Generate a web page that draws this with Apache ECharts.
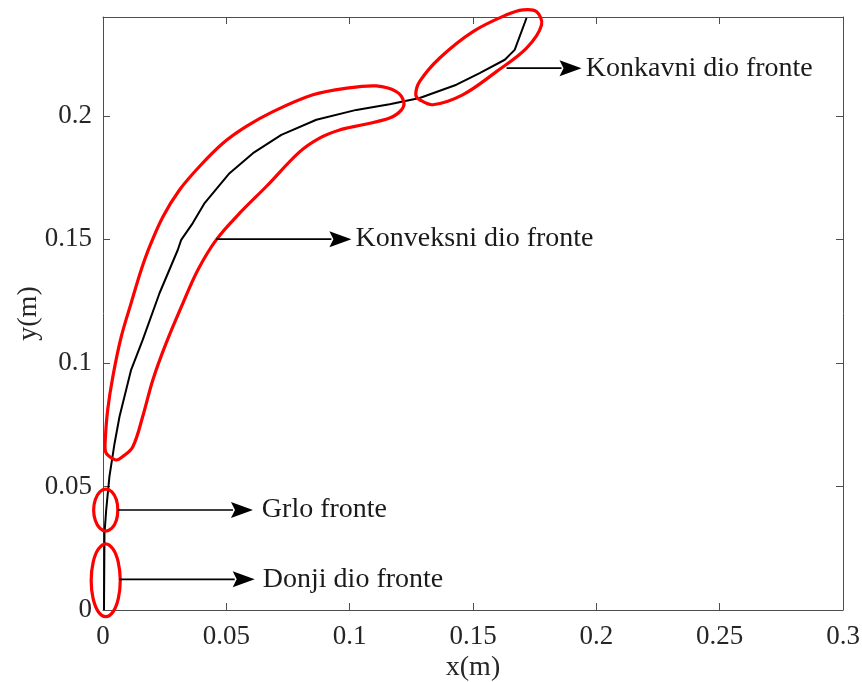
<!DOCTYPE html>
<html><head><meta charset="utf-8">
<script src="https://cdn.jsdelivr.net/npm/echarts@6/dist/echarts.min.js"></script>
<style>html,body{margin:0;padding:0;background:#fff}#c{width:862px;height:682px}</style>
</head><body><div id="c"></div>
<script>
// axis settings
const xTicks = [0, 0.05, 0.1, 0.15, 0.2, 0.25, 0.3];
const yTicks = [0, 0.05, 0.1, 0.15, 0.2];
const xMax = 0.3, yMax = 0.24;

// front profile (black curve)
const curveX = [0.0004, 0.0006, 0.0013, 0.0026, 0.0047, 0.0067, 0.0114, 0.0161, 0.0229, 0.0303, 0.0317, 0.0364, 0.0412, 0.0513, 0.0608, 0.0723, 0.0865, 0.1027, 0.1162, 0.1284, 0.1433, 0.1527, 0.1629, 0.1669, 0.1717];
const curveY = [0.0000, 0.0310, 0.0405, 0.0540, 0.0675, 0.0783, 0.0972, 0.1093, 0.1282, 0.1457, 0.1498, 0.1566, 0.1647, 0.1768, 0.1849, 0.1923, 0.1984, 0.2024, 0.2047, 0.2072, 0.2126, 0.2173, 0.2227, 0.2267, 0.2396];

// red outlines (x,y pairs in data units)
const convexOutline = [[0.0010,0.0641],[0.0010,0.0702],[0.0019,0.0810],[0.0040,0.0945],[0.0074,0.1106],[0.0114,0.1242],[0.0155,0.1377],[0.0189,0.1471],[0.0243,0.1592],[0.0310,0.1700],[0.0391,0.1795],[0.0486,0.1889],[0.0581,0.1957],[0.0689,0.2017],[0.0851,0.2085],[0.0987,0.2112],[0.1108,0.2121],[0.1189,0.2098],[0.1219,0.2058],[0.1210,0.2024],[0.1162,0.1991],[0.1054,0.1964],[0.0959,0.1943],[0.0878,0.1910],[0.0797,0.1854],[0.0662,0.1714],[0.0554,0.1606],[0.0459,0.1498],[0.0385,0.1377],[0.0324,0.1242],[0.0256,0.1080],[0.0202,0.0931],[0.0161,0.0783],[0.0121,0.0661],[0.0080,0.0621],[0.0054,0.0607],[0.0026,0.0621]];
const concaveOutline = [[0.1284,0.2065],[0.1337,0.2045],[0.1458,0.2085],[0.1595,0.2179],[0.1717,0.2274],[0.1778,0.2368],[0.1757,0.2422],[0.1703,0.2429],[0.1636,0.2409],[0.1500,0.2341],[0.1365,0.2234],[0.1284,0.2139],[0.1268,0.2085]];
const throatOutline = [[0.0060,0.0405],[0.0054,0.0447],[0.0036,0.0478],[0.0011,0.0489],[-0.0013,0.0478],[-0.0031,0.0447],[-0.0038,0.0405],[-0.0031,0.0362],[-0.0013,0.0331],[0.0011,0.0319],[0.0036,0.0331],[0.0054,0.0362]];
const lowerOutline = [[0.0070,0.0119],[0.0062,0.0193],[0.0041,0.0246],[0.0011,0.0268],[-0.0019,0.0246],[-0.0040,0.0193],[-0.0048,0.0119],[-0.0040,0.0046],[-0.0019,-0.0007],[0.0011,-0.0027],[0.0041,-0.0007],[0.0062,0.0046]];
const outlines = [convexOutline, concaveOutline, throatOutline, lowerOutline];

// arrows: start x, end x, y, label start x
const arrowLabels = ['Konkavni dio fronte', 'Konveksni dio fronte', 'Grlo fronte', 'Donji dio fronte'];
const arrowStartX = [0.1636, 0.0459, 0.0060, 0.0067];
const arrowEndX = [0.1940, 0.1007, 0.0608, 0.0615];
const arrowY = [0.2193, 0.1501, 0.0405, 0.0124];
const labelX = [0.1957, 0.1024, 0.0644, 0.0648];

const FONT = '"Liberation Serif", "Times New Roman", serif';
const axisCol = '#4d4d4d';
const txtCol = '#262626';

const chart = echarts.init(document.getElementById('c'));
function mkAxis(extra) {
  return Object.assign({
    type: 'value', min: 0, interval: 0.05,
    axisLine: {show: true, onZero: false, lineStyle: {color: axisCol, width: 1}},
    axisTick: {show: true, inside: true, length: 7, lineStyle: {color: axisCol, width: 1}},
    splitLine: {show: false},
    axisLabel: {show: false}
  }, extra);
}
const option = {
  animation: false,
  grid: {left: 103, right: 19, top: 17, bottom: 72, containLabel: false, outerBoundsMode: 'none'},
  xAxis: [
    mkAxis({position: 'bottom', max: xMax, name: 'x(m)', nameLocation: 'middle', nameGap: 44, nameMoveOverlap: false,
      nameTextStyle: {fontFamily: FONT, fontSize: 28, color: txtCol},
      axisLabel: {show: true, margin: 13, fontFamily: FONT, fontSize: 27, color: txtCol,
        formatter: v => xTicks.includes(+v.toFixed(2)) ? String(+v.toFixed(2)) : ''}}),
    mkAxis({position: 'top', max: xMax})
  ],
  yAxis: [
    mkAxis({position: 'left', max: yMax, name: 'y(m)', nameLocation: 'middle', nameGap: 60, nameMoveOverlap: false,
      nameTextStyle: {fontFamily: FONT, fontSize: 28, color: txtCol},
      axisLabel: {show: true, margin: 11, showMaxLabel: false, fontFamily: FONT, fontSize: 27, color: txtCol,
        padding: [6, 0, 0, 0],
        formatter: v => yTicks.includes(+v.toFixed(2)) ? String(+v.toFixed(2)) : ''}}),
    mkAxis({position: 'right', max: yMax})
  ],
  series: [
    {
      type: 'line', xAxisIndex: 0, yAxisIndex: 0,
      data: curveX.map((x, i) => [x, curveY[i]]),
      showSymbol: false, symbol: 'none',
      lineStyle: {color: '#000', width: 2}, z: 3
    },
    {
      type: 'custom', xAxisIndex: 0, yAxisIndex: 0, clip: false, z: 4,
      data: outlines.map(o => o[0]),
      renderItem: (params, api) => {
        const pts = outlines[params.dataIndex].map(p => api.coord(p));
        return {type: 'polygon', shape: {points: pts, smooth: 0.35},
          style: {fill: 'none', stroke: '#ff0000', lineWidth: 3.2}};
      }
    },
    {
      type: 'custom', xAxisIndex: 0, yAxisIndex: 0, clip: false, z: 5,
      data: arrowY.map((y, i) => [arrowStartX[i], y]),
      renderItem: (params, api) => {
        const i = params.dataIndex;
        const s = api.coord([arrowStartX[i], arrowY[i]]);
        const e = api.coord([arrowEndX[i], arrowY[i]]);
        const l = api.coord([labelX[i], arrowY[i]]);
        const hl = 22, hw = 8;
        return {type: 'group', children: [
          {type: 'line', shape: {x1: s[0], y1: s[1], x2: e[0] - hl + 2, y2: e[1]}, style: {stroke: '#000', lineWidth: 1.6}},
          {type: 'polygon', shape: {points: [[e[0], e[1]], [e[0] - hl, e[1] - hw], [e[0] - hl + 4, e[1]], [e[0] - hl, e[1] + hw]]}, style: {fill: '#000'}},
          {type: 'text', style: {text: arrowLabels[i], x: l[0], y: l[1], fill: '#1a1a1a', fontFamily: FONT, fontSize: 28, verticalAlign: 'middle', align: 'left'}}
        ]};
      }
    }
  ]
};
chart.setOption(option);
</script>
</body></html>
